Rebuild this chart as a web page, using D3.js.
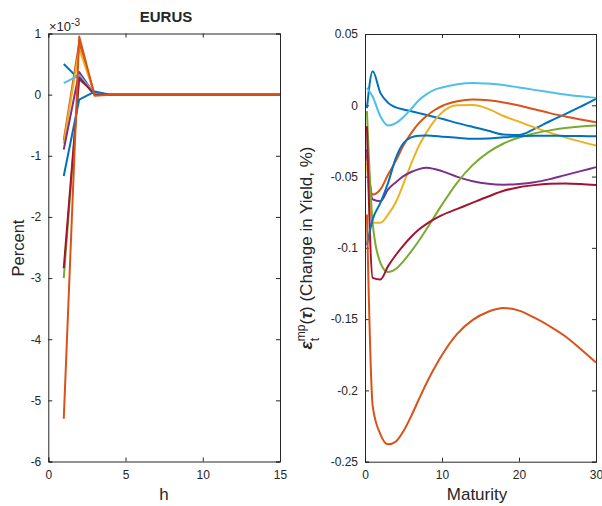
<!DOCTYPE html>
<html><head><meta charset="utf-8">
<script src="https://cdn.jsdelivr.net/npm/d3@7"></script>
<style>
html,body{margin:0;padding:0;background:#fff;}
svg text{font-family:"Liberation Sans",Arial,Helvetica,sans-serif;fill:#262626;}
</style></head>
<body>
<svg id="c" width="602" height="506"></svg>
<script>
// ---------- DATA ----------
const colors = ["#0072BD","#D95319","#EDB120","#7E2F8E","#77AC30","#4DBEEE","#A2142F","#0072BD","#D95319"];

// Left panel: impulse responses (units of 1e-3), horizon h
const horizons = [1,2,3,4,5,6,7,8,9,10,11,12,13,14,15];
const irf1 = [0.50, 0.25, 0.03, 0,0,0,0,0,0,0,0,0,0,0,0];
const irf2 = [-0.75, 0.85, 0.00, 0,0,0,0,0,0,0,0,0,0,0,0];
const irf3 = [-0.80, 0.75, 0.01, 0,0,0,0,0,0,0,0,0,0,0,0];
const irf4 = [-0.90, 0.37, 0.00, 0,0,0,0,0,0,0,0,0,0,0,0];
const irf5 = [-3.00, 0.30, 0.00, 0,0,0,0,0,0,0,0,0,0,0,0];
const irf6 = [0.19, 0.32, 0.02, 0,0,0,0,0,0,0,0,0,0,0,0];
const irf7 = [-2.84, 0.28, 0.00, 0,0,0,0,0,0,0,0,0,0,0,0];
const irf8 = [-1.33, -0.08, 0.05, 0,0,0,0,0,0,0,0,0,0,0,0];
const irf9 = [-5.30, 0.95, -0.02, 0,0,0,0,0,0,0,0,0,0,0,0];
const leftSeries = [irf1,irf2,irf3,irf4,irf5,irf6,irf7,irf8,irf9];
const leftYTicks = [1,0,-1,-2,-3,-4,-5,-6];
const leftXTicks = [0,5,10,15];

// Right panel: change in yield (%) by maturity
const maturities = [0.25,1,2,3,4,5,6,7,8,9,10,12,14,16,18,20,22,24,26,28,30];
const yc1 = [-0.002,0.0238,0.0087,0.0017,-0.0015,-0.003,-0.0042,-0.0055,-0.0068,-0.0082,-0.0095,-0.0125,-0.0152,-0.0178,-0.0205,-0.0208,-0.0165,-0.0112,-0.0062,-0.001,0.0045];
const yc2 = [-0.035,-0.0626,-0.059,-0.0486,-0.039,-0.028,-0.0195,-0.0125,-0.0075,-0.0035,-0.0005,0.0028,0.004,0.0035,0.002,-0.0002,-0.0028,-0.0055,-0.0078,-0.0099,-0.0119];
const yc3 = [-0.0404,-0.0824,-0.0824,-0.0766,-0.068,-0.055,-0.041,-0.0285,-0.019,-0.011,-0.005,0.0,0.0002,-0.0025,-0.0075,-0.0115,-0.0155,-0.0192,-0.0225,-0.0255,-0.0282];
const yc4 = [-0.031,-0.066,-0.0673,-0.059,-0.054,-0.0497,-0.0468,-0.0448,-0.0439,-0.0447,-0.0462,-0.0502,-0.0533,-0.0551,-0.0557,-0.0552,-0.054,-0.0518,-0.049,-0.0462,-0.0434];
const yc5 = [-0.004,-0.083,-0.1105,-0.117,-0.1148,-0.1093,-0.1025,-0.095,-0.0868,-0.0782,-0.0697,-0.054,-0.0418,-0.033,-0.0268,-0.0226,-0.0197,-0.0176,-0.016,-0.0149,-0.0142];
const yc6 = [0.0122,0.006,-0.0077,-0.0142,-0.0125,-0.0082,-0.0025,0.0035,0.0078,0.0108,0.0125,0.0148,0.0157,0.0152,0.0142,0.0125,0.0108,0.0092,0.0076,0.0063,0.0052];
const yc7 = [-0.0147,-0.121,-0.1222,-0.1128,-0.105,-0.0982,-0.0922,-0.0872,-0.0832,-0.0799,-0.0771,-0.0727,-0.0683,-0.064,-0.06,-0.0575,-0.056,-0.0551,-0.0548,-0.0552,-0.056];
const yc8 = [-0.098,-0.08,-0.0684,-0.0544,-0.037,-0.0265,-0.0225,-0.0213,-0.0212,-0.0216,-0.022,-0.0228,-0.0235,-0.0233,-0.0225,-0.0218,-0.0214,-0.0214,-0.0215,-0.0216,-0.0217];
const yc9 = [-0.0766,-0.211,-0.2308,-0.2378,-0.2359,-0.2285,-0.218,-0.2062,-0.1948,-0.1845,-0.1752,-0.1602,-0.1505,-0.1448,-0.1422,-0.144,-0.149,-0.155,-0.162,-0.171,-0.1805];
const rightSeries = [yc1,yc2,yc3,yc4,yc5,yc6,yc7,yc8,yc9];
const rightYTicks = [0.05,0,-0.05,-0.1,-0.15,-0.2,-0.25];
const rightXTicks = [0,10,20,30];

// ---------- DRAW ----------
const svg = d3.select("#c");
const axisColor = "#262626";

function panel(cfg){
  const g = svg.append("g");
  const x = d3.scaleLinear().domain(cfg.xDomain).range([cfg.left, cfg.right]);
  const y = d3.scaleLinear().domain(cfg.yDomain).range([cfg.bottom, cfg.top]);
  const tl = 4;
  const bx = g.append("g").attr("transform",`translate(0,${cfg.bottom})`)
    .call(d3.axisBottom(x).tickValues(cfg.xTicks).tickSize(-tl).tickPadding(9).tickFormat(d=>String(d)));
  const ly = g.append("g").attr("transform",`translate(${cfg.left},0)`)
    .call(d3.axisLeft(y).tickValues(cfg.yTicks).tickSize(-tl).tickPadding(7).tickFormat(d=>String(d)));
  const tx = g.append("g").attr("transform",`translate(0,${cfg.top})`)
    .call(d3.axisTop(x).tickValues(cfg.xTicks).tickSize(-tl).tickFormat(""));
  const ry = g.append("g").attr("transform",`translate(${cfg.right},0)`)
    .call(d3.axisRight(y).tickValues(cfg.yTicks).tickSize(-tl).tickFormat(""));
  [bx,ly,tx,ry].forEach(a=>{
    a.select(".domain").attr("stroke",axisColor).attr("stroke-width",1);
    a.selectAll(".tick line").attr("stroke",axisColor).attr("stroke-width",1);
    a.selectAll(".tick text").attr("font-size",12).attr("fill",axisColor)
      .style("font-family","'Liberation Sans',Arial,sans-serif");
  });
  const line = d3.line().x(d=>x(d[0])).y(d=>y(d[1])).curve(cfg.curve);
  cfg.series.forEach((s,i)=>{
    g.append("path").datum(cfg.xs.map((xv,j)=>[xv,s[j]]))
      .attr("d",line).attr("fill","none").attr("stroke",colors[i])
      .attr("stroke-width",2).attr("stroke-linejoin","round");
  });
  return {x,y,g};
}

panel({left:48.3,right:280,top:33.5,bottom:461.5,xDomain:[0,15],yDomain:[-6,1],
  xTicks:leftXTicks,yTicks:leftYTicks,series:leftSeries,xs:horizons,curve:d3.curveLinear});
panel({left:365,right:596,top:34,bottom:461.7,xDomain:[0,30],yDomain:[-0.25,0.05],
  xTicks:rightXTicks,yTicks:rightYTicks,series:rightSeries,xs:maturities,curve:d3.curveMonotoneX});

// titles & labels
svg.append("text").attr("x",166).attr("y",22).attr("text-anchor","middle")
  .attr("font-size",15).attr("font-weight","bold").text("EURUS");
const ex = svg.append("text").attr("x",49).attr("y",31).attr("font-size",13);
ex.append("tspan").text("×10");
ex.append("tspan").attr("font-size",10).attr("dy",-5).text("-3");

svg.append("text").attr("x",164).attr("y",500).attr("text-anchor","middle")
  .attr("font-size",17).text("h");
svg.append("text").attr("x",477).attr("y",500).attr("text-anchor","middle")
  .attr("font-size",17).text("Maturity");
svg.append("text").attr("transform","translate(24,248) rotate(-90)")
  .attr("text-anchor","middle").attr("font-size",16.5).text("Percent");

const yl = svg.append("text").attr("transform","translate(312,248) rotate(-90)")
  .attr("text-anchor","middle").attr("font-size",17);
yl.append("tspan").attr("font-weight","bold").attr("font-style","italic").text("ε");
yl.append("tspan").attr("font-size",12).attr("baseline-shift","super").text("mp");
yl.append("tspan").attr("font-size",12).attr("dx",-16.7).attr("baseline-shift","sub").text("t");
yl.append("tspan").attr("dx",13.4).text("(");
yl.append("tspan").attr("font-weight","bold").attr("font-style","italic").text("τ");
yl.append("tspan").text(") (Change in Yield, %)");
</script>
</body></html>
